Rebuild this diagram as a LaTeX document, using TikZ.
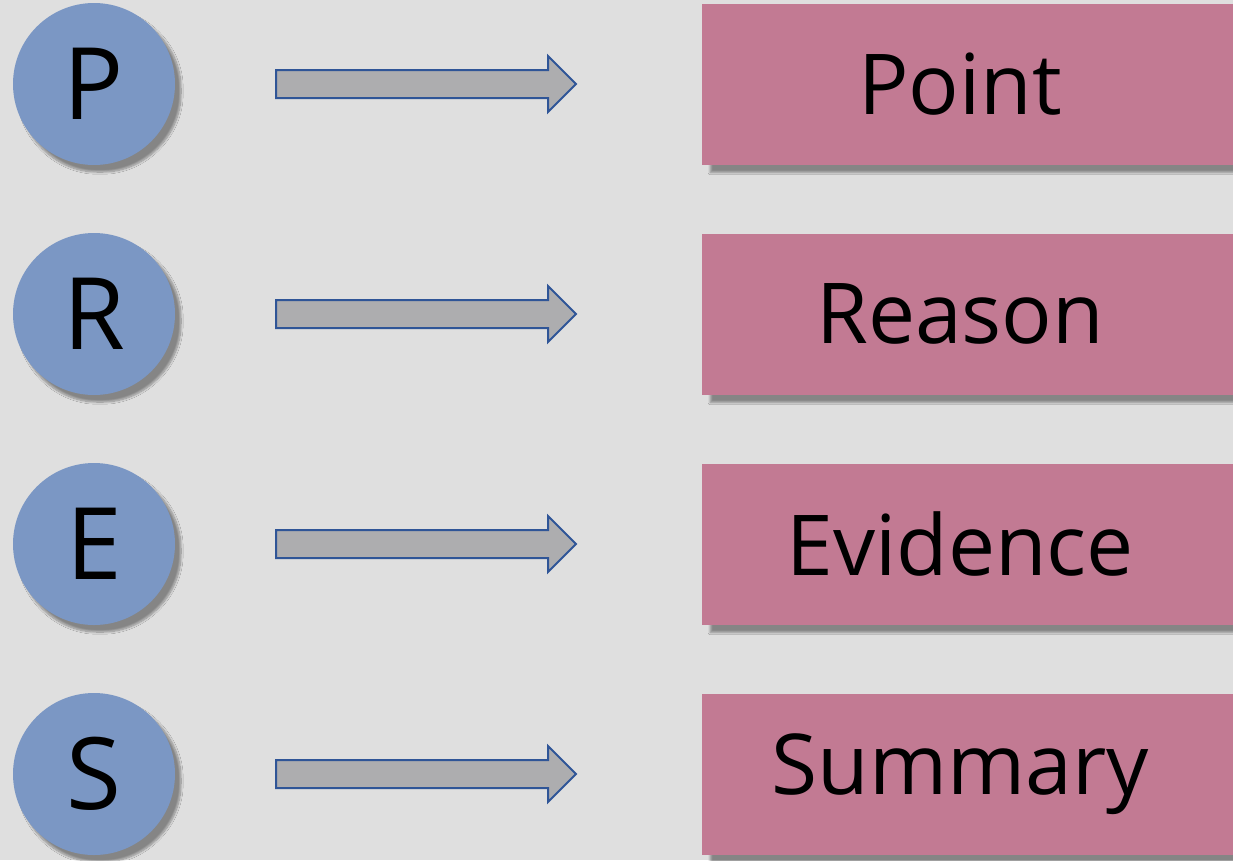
\documentclass[tikz,border=0pt]{standalone}
\usepackage{fontspec}
\setmainfont{Open Sans}
\usetikzlibrary{shadows.blur}
\definecolor{bg}{HTML}{DFDFDF}
\definecolor{circ}{HTML}{7B97C4}
\definecolor{rectc}{HTML}{C27A93}
\definecolor{arrf}{HTML}{ADADAF}
\definecolor{arrd}{HTML}{2F5597}
\tikzset{
  letter/.style={circle, fill=circ, minimum size=162pt, inner sep=0pt,
    font=\fontsize{100}{100}\selectfont,
    blur shadow={shadow xshift=6pt, shadow yshift=-7pt, shadow blur steps=10, shadow blur extra rounding=3pt, shadow opacity=40}},
  word/.style={rectangle, fill=rectc, minimum width=540pt, minimum height=161pt, inner sep=0pt, anchor=west,
    font=\fontsize{84}{84}\selectfont,
    blur shadow={shadow xshift=8pt, shadow yshift=-8pt, shadow blur steps=8, shadow opacity=40}},
  fat/.style={arrd, line width=2pt, fill=arrf, line join=miter},
}
\begin{document}
\begin{tikzpicture}[x=1pt,y=-1pt]
\fill[bg] (0,0) rectangle (1233,860);
\useasboundingbox (0,0) rectangle (1233,860);
\foreach \n/\L/\W/\y in {p/P/Point/84, r/R/Reason/314, e/E/Evidence/544, s/S/Summary/774}{
  \node[letter] (\n) at (94,\y) {\L};
  \node[word] (\n w) at (702,\y) {\hspace*{-24pt}\W};
  \coordinate (\n a) at (276,\y);
  \coordinate (\n b) at (576,\y);
  \draw[fat]
    ([yshift=14pt]\n a) -- ([xshift=-28pt,yshift=14pt]\n b) -- ([xshift=-28pt,yshift=28pt]\n b)
    -- (\n b) -- ([xshift=-28pt,yshift=-28pt]\n b) -- ([xshift=-28pt,yshift=-14pt]\n b)
    -- ([yshift=-14pt]\n a) -- cycle;
}
\end{tikzpicture}
\end{document}
